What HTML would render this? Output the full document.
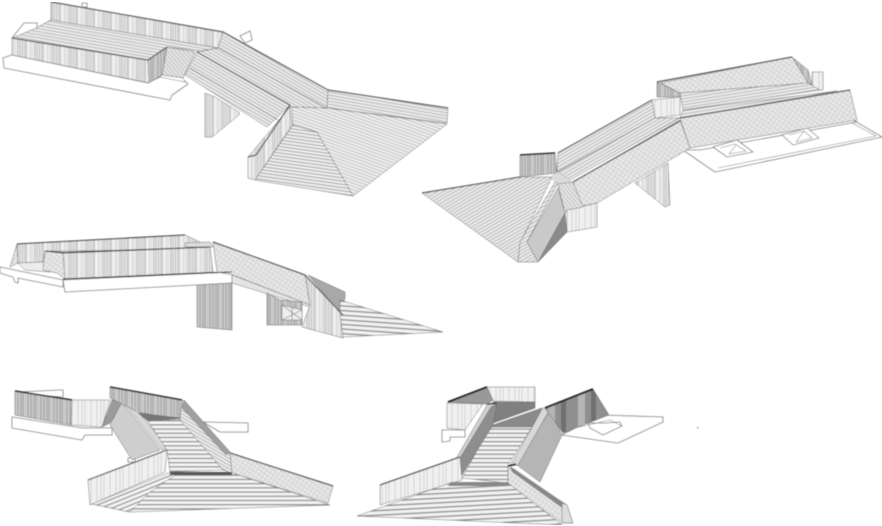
<!DOCTYPE html>
<html><head><meta charset="utf-8"><style>
html,body{margin:0;padding:0;background:#fff;width:882px;height:526px;overflow:hidden}
svg{display:block}
polygon,polyline,path{stroke-linejoin:round}
polygon{stroke:#666;stroke-width:.5}
.n{stroke:none}
.w{fill:#fff;stroke:#777;stroke-width:.8}
.r{fill:none;stroke:#555;stroke-width:1.2}
.k{fill:none;stroke:#222;stroke-width:1.5}
.t{fill:none;stroke:#777;stroke-width:.6}
</style></head><body>
<svg width="882" height="526" viewBox="0 0 882 526" xmlns="http://www.w3.org/2000/svg">
<defs>
<filter id="b" x="0" y="0" width="100%" height="100%"><feGaussianBlur stdDeviation=".45"/></filter>
<pattern id="v" width="17" height="10" patternUnits="userSpaceOnUse"><rect width="17" height="10" fill="#e6e6e6"/><path d="M1 0V10M3 0V10M5.5 0V10M8 0V10M9.5 0V10M13 0V10" stroke="#b4b4b4" stroke-width=".7"/><rect x="10" width="3" height="10" fill="#f2f2f2"/></pattern>
<pattern id="vl" width="19" height="10" patternUnits="userSpaceOnUse"><rect width="19" height="10" fill="#f0f0f0"/><path d="M2 0V10M6 0V10M9 0V10M15 0V10" stroke="#c8c8c8" stroke-width=".7"/></pattern>
<pattern id="vd" width="13" height="10" patternUnits="userSpaceOnUse"><rect width="13" height="10" fill="#c9c9c9"/><path d="M2 0V10M5 0V10M8 0V10M10 0V10" stroke="#969696" stroke-width=".8"/></pattern>
<pattern id="vx" width="30" height="10" patternUnits="userSpaceOnUse"><rect width="30" height="10" fill="#8f8f8f"/><rect x="8" width="7" height="10" fill="#b5b5b5"/><rect x="21" width="5" height="10" fill="#6f6f6f"/></pattern>
<pattern id="h10" width="10" height="3" patternUnits="userSpaceOnUse" patternTransform="rotate(10)"><rect width="10" height="3" fill="#ececec"/><path d="M0 .5H10" stroke="#a8a8a8" stroke-width=".8"/></pattern>
<pattern id="h30" width="10" height="3" patternUnits="userSpaceOnUse" patternTransform="rotate(30)"><rect width="10" height="3" fill="#ececec"/><path d="M0 .5H10" stroke="#a8a8a8" stroke-width=".8"/></pattern>
<pattern id="hn9" width="10" height="3" patternUnits="userSpaceOnUse" patternTransform="rotate(-9)"><rect width="10" height="3" fill="#ececec"/><path d="M0 .5H10" stroke="#a8a8a8" stroke-width=".8"/></pattern>
<pattern id="hn30" width="10" height="3" patternUnits="userSpaceOnUse" patternTransform="rotate(-30)"><rect width="10" height="3" fill="#ececec"/><path d="M0 .5H10" stroke="#a8a8a8" stroke-width=".8"/></pattern>
<pattern id="h20" width="10" height="3" patternUnits="userSpaceOnUse" patternTransform="rotate(20)"><rect width="10" height="3" fill="#f0f0f0"/><path d="M0 .5H10" stroke="#aaa" stroke-width=".7"/></pattern>
<pattern id="d60" width="10" height="3" patternUnits="userSpaceOnUse" patternTransform="rotate(50)"><rect width="10" height="3" fill="#e6e6e6"/><path d="M0 .5H10" stroke="#b0b0b0" stroke-width=".7"/></pattern>
<pattern id="x" width="4" height="4" patternUnits="userSpaceOnUse" patternTransform="rotate(35)"><rect width="4" height="4" fill="#e8e8e8"/><path d="M0 0H4M0 0V4" stroke="#bbb" stroke-width=".7"/></pattern>
<pattern id="s" width="10" height="4.2" patternUnits="userSpaceOnUse"><rect width="10" height="4.2" fill="#f4f4f4"/><rect width="10" height="1.3" fill="#8f8f8f"/></pattern>
<pattern id="sl" width="10" height="4.2" patternUnits="userSpaceOnUse" patternTransform="rotate(-22)"><rect width="10" height="4.2" fill="#f4f4f4"/><rect width="10" height="1.3" fill="#959595"/></pattern>
<pattern id="s5" width="10" height="4.6" patternUnits="userSpaceOnUse" patternTransform="rotate(4)"><rect width="10" height="4.6" fill="#f2f2f2"/><rect width="10" height="1.4" fill="#8f8f8f"/></pattern>
<pattern id="sn" width="10" height="4.6" patternUnits="userSpaceOnUse" patternTransform="rotate(-3)"><rect width="10" height="4.6" fill="#f2f2f2"/><rect width="10" height="1.4" fill="#8f8f8f"/></pattern>
<pattern id="s3" width="10" height="3.2" patternUnits="userSpaceOnUse" patternTransform="rotate(8)"><rect width="10" height="3.2" fill="#f0f0f0"/><rect width="10" height="1" fill="#a0a0a0"/></pattern>
</defs>
<g filter="url(#b)">

<!-- Drawing 1 -->
<g>
<polygon class="w" points="3,58 4,68 170,100 172,95 188,84 185,81 160,77 148,83 12,55"/>
<polygon points="205,93 205,137 212,137 239,115 239,112 215,97" fill="url(#v)"/>
<polygon points="82,3 87,3 87,7 82,7" class="w"/>
<polygon points="240,36 250,31 252,40 245,43" class="w"/>
<polygon points="12,38 24,23 37,23 37,28 51,20 51,32 22,38" class="w"/>
<polygon points="51,2 223,32 218,48 51,20" fill="url(#v)"/>
<polygon points="51,20 218,48 200,51 167,47 148,60 12,38 36,28" fill="url(#h10)"/>
<polygon points="167,47 195,52 183,78 162,75" fill="url(#d60)"/>
<polygon points="162,75 183,78 185,82 160,77" fill="#fff"/>
<polygon points="12,38 148,60 149,83 12,55" fill="url(#v)"/>
<polygon points="148,60 167,47 162,75 149,83" fill="url(#vd)"/>
<polygon points="197,52 218,48 327,108 290,107" fill="url(#h30)"/>
<polygon points="223,32 328,90 327,108 218,48" fill="url(#h30)"/>
<polygon points="197,52 290,105 267,127 185,75" fill="url(#h30)"/>
<polygon points="328,90 448,108 447,123 327,108" fill="url(#h10)"/>
<polygon points="292,107 327,108 447,124 353,196 317,132 293,125" fill="url(#h20)"/>
<polygon points="293,125 317,132 353,196 255,180" fill="url(#s3)"/>
<polygon points="290,107 248,157 248,178 255,180 292,125" fill="url(#v)"/>
<polyline class="r" points="51,2 223,32 328,90 448,108"/>
<polyline class="r" points="12,38 148,60 167,47"/>
<polyline class="r" points="197,52 290,105 256,155 248,157"/>
<polyline class="t" points="190,68 278,120"/>
<polyline class="t" points="12,55 149,83"/>
</g>

<!-- Drawing 2 -->
<g>
<polygon class="w" points="683,150 715,172 882,137 853,120 857,122 700,150"/>
<polyline class="t" points="718,168 876,136 852,123"/>
<polygon class="w" points="713,147 737,140 753,152 727,157"/>
<polygon class="w" points="782,135 807,128 819,138 793,145"/>
<polyline class="t" points="720,148 735,144 746,151 729,154 736,145"/>
<polyline class="t" points="789,135 804,131 812,138 796,142 804,131"/>
<polygon points="635,183 668,163 670,205 665,207" fill="url(#v)"/>
<polygon points="812,72 823,72 823,90 812,90" fill="url(#vl)"/>
<polygon points="792,57 808,70 812,85 808,83" fill="url(#vd)"/>
<polygon points="657,82 680,93 680,97 657,97" fill="url(#vd)"/>
<polygon points="661,83 792,57 808,83 680,93" fill="url(#x)"/>
<polygon points="680,93 808,83 820,90 683,110" fill="url(#hn9)"/>
<polygon points="683,110 837,91 680,118" fill="url(#hn9)"/>
<polygon points="680,118 850,90 857,120 690,148" fill="url(#x)"/>
<polygon points="652,100 680,97 680,115 655,118" fill="url(#vl)"/>
<polygon points="652,100 558,153 557,172 655,118" fill="url(#hn30)"/>
<polygon points="655,118 680,118 570,180 558,172" fill="url(#hn30)"/>
<polygon points="680,120 690,148 597,203 577,207 573,182" fill="url(#x)"/>
<polygon points="597,203 597,227 567,232 567,210" fill="url(#vl)"/>
<polygon points="520,155 555,153 557,173 520,177" fill="url(#vd)"/>
<polygon class="n" points="552,175 558,172 573,182 558,184 552,180" fill="#dcdcdc"/>
<polygon points="422,193 520,177 552,177 520,243 518,262" fill="url(#hn30)"/>
<polygon points="520,242 555,182 558,183 527,242 538,262 518,262" fill="url(#hn30)"/>
<polygon points="558,184 573,182 583,207 567,210 565,213" fill="url(#d60)"/>
<polygon points="558,188 565,213 538,262 527,242" fill="#c9c9c9"/>
<polygon points="565,213 538,262 567,232" fill="#8a8a8a"/>
<polyline class="r" points="657,82 792,57"/>
<polyline class="r" points="680,118 850,90"/>
<polyline class="r" points="652,100 558,153"/>
<polyline class="r" points="680,121 573,182"/>
<polyline class="k" points="520,155 555,153"/>
<polyline class="r" points="422,193 520,177"/>
</g>

<!-- Drawing 3 -->
<g>
<polygon class="w" points="0,267 63,280 63,287 18,278 18,283 15,282 13,277 0,273"/>
<polygon class="w" points="63,280 232,272 232,283 65,292"/>
<polygon points="197,285 232,283 232,330 197,327" fill="url(#vd)"/>
<polygon points="17,244 10,267 18,263" fill="url(#x)"/>
<polygon points="17,244 185,235 200,242 190,250 45,251 43,262 18,263" fill="url(#v)"/>
<polygon points="18,263 43,262 50,272 25,270" fill="#ececec"/>
<polygon points="45,251 63,252 65,279 57,273 43,270" fill="url(#x)"/>
<polygon points="63,252 210,247 213,272 65,279" fill="url(#v)"/>
<polygon points="185,243 210,242 213,247 185,247" fill="#ddd"/>
<polygon points="213,242 305,275 310,305 233,275 217,272" fill="url(#x)"/>
<polygon points="232,275 310,305 310,307 232,283" fill="#e4e4e4"/>
<polygon points="267,293 280,300 302,302 302,325 267,325" fill="url(#vd)"/>
<polygon points="282,305 302,310 302,320 282,320" fill="#eee"/>
<path class="t" d="M282,305L302,320M302,310L282,320M292,307V320"/>
<polygon points="305,275 343,315 343,338 302,327 310,305" fill="url(#v)"/>
<polygon points="308,275 345,292 345,298 340,313" fill="#a8a8a8"/>
<polygon points="340,300 443,332 343,337 340,313" fill="url(#s5)"/>
<polyline class="k" style="stroke-width:1" points="17,244 185,235"/>
<polyline class="k" style="stroke-width:1" points="45,251 63,253 210,247"/>
<polyline class="k" style="stroke-width:1" points="63,279 232,272"/>
<polyline class="r" points="213,242 305,275 343,315"/>
</g>

<!-- Drawing 4 -->
<g>
<polygon class="w" points="203,422 248,423 248,432 220,432"/>
<polygon class="w" points="12,417 82,428 112,428 112,435 85,435 82,440 12,428"/>
<polygon points="60,390 63,390 63,397 50,396 20,392" class="w"/>
<polygon points="15,391 72,400 71,425 15,415" fill="url(#vd)"/>
<polygon points="72,400 110,400 102,427 71,425" fill="url(#vl)"/>
<polygon points="112,400 123,402 110,423 102,427" fill="#9b9b9b"/>
<polygon points="128,458 135,458 135,462 128,462" class="w"/>
<polygon points="122,402 160,450 132,460 110,425" fill="#cecece"/>
<polygon points="123,401 130,402 168,448 162,450" fill="#d8d8d8"/>
<polygon points="110,387 182,400 180,420 138,412 110,398" fill="url(#vd)"/>
<polygon class="n" points="130,402 138,412 148,421 168,450 168,446" fill="#e2e2e2"/>
<polygon points="138,413 180,418 148,421" fill="#777"/>
<polygon points="148,421 180,419 223,470 170,472 167,450" fill="url(#s)"/>
<polygon points="182,400 230,452 232,473 223,470 180,420" fill="url(#h30)"/>
<polygon points="184,400 230,452 226,455 182,408" fill="#a0a0a0"/>
<polygon points="230,453 333,486 328,503 232,473" fill="url(#x)"/>
<polygon points="167,450 88,480 90,505 165,472" fill="url(#vl)"/>
<polygon points="170,473 232,473 330,505 130,512 92,504" fill="url(#s)"/>
<polygon points="168,473 178,473 150,492 130,512 92,504" fill="url(#sl)"/>
<polygon class="n" points="170,472 232,472 232,475 170,475" fill="#555"/>
<polyline class="k" style="stroke-width:1.5" points="15,391 72,400"/>
<polyline class="k" style="stroke-width:1.5" points="110,387 182,400"/>
<polyline class="r" points="230,453 333,486"/>
<polyline class="r" points="167,450 88,480"/>
</g>

<!-- Drawing 5 -->
<g>
<polygon class="w" points="442,430 465,430 465,437 450,437 450,441 442,442"/>
<polygon class="w" points="600,415 663,417 663,422 618,443 562,435"/>
<polygon class="w" points="588,423 605,423 620,422 622,426 603,435 590,428"/>
<polyline class="t" points="575,428 610,420 622,426"/>
<polygon points="447,403 483,404 465,430 447,428" fill="url(#vl)"/>
<polygon points="487,387 535,387 535,402 493,401" fill="url(#vl)"/>
<polygon points="448,402 487,387 493,400 487,404" fill="#999"/>
<polygon points="493,402 535,402 535,408 493,423" fill="#808080"/>
<polygon points="493,425 542,408 532,427 490,427" fill="#8a8a8a"/>
<polygon points="490,427 532,427 508,465 508,483 462,478" fill="url(#s)"/>
<polygon points="487,405 497,404 492,425 462,473 457,457" fill="#d0d0d0"/>
<polygon points="491,407 497,404 493,425 462,475 460,458" fill="#8e8e8e"/>
<polygon points="550,410 562,435 540,482 517,465" fill="#b5b5b5"/>
<polygon points="543,408 550,409 518,465 510,466" fill="#d8d8d8"/>
<polygon points="545,408 593,389 609,415 563,433" fill="url(#vx)"/>
<polygon points="380,485 460,457 462,480 380,505" fill="url(#vl)"/>
<polygon points="508,467 567,505 573,523 562,523 508,485" fill="url(#x)"/>
<polygon class="n" points="510,466 567,505 565,510 512,472" fill="#888"/>
<polygon points="450,483 508,483 562,525 357,516" fill="url(#sn)"/>
<polygon class="n" points="451,482 508,482 510,486 448,486" fill="#888"/>
<polygon points="562,503 567,505 573,523 562,523" fill="#ddd"/>
<polyline class="k" style="stroke-width:2" points="448,402 487,387"/>
<polyline class="k" style="stroke-width:2" points="545,408 593,389"/>
<polyline class="k" style="stroke-width:1" points="487,404 497,403"/>
<polyline class="k" style="stroke-width:1.5" points="508,466 516,464"/>
<polyline class="r" points="380,485 460,457"/>
<rect x="697" y="427" width="1.5" height="1.5" fill="#999"/>
</g>
</g>
</svg>
</body></html>
